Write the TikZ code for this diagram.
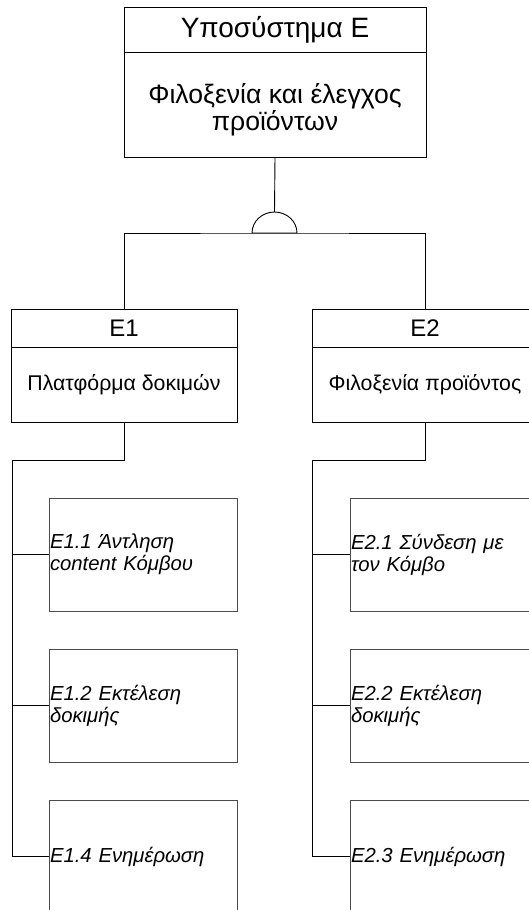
\documentclass[tikz,border=0pt]{standalone}
\usepackage{fontspec}
\setmainfont{Liberation Sans}
\usetikzlibrary{calc}
\begin{document}
\begin{tikzpicture}[x=1pt,y=1pt,
  every node/.style={inner sep=0pt, outer sep=0pt},
  box/.style={draw=black, line width=0.9pt, fill=white, align=center},
  headbox/.style={box, minimum width=302pt},
  groupbox/.style={box, minimum width=226pt},
  leafbox/.style={draw=black!70, line width=0.9pt, fill=white,
    minimum width=188pt, minimum height=113pt, text width=186pt,
    align=left, inner xsep=1pt,
    font=\itshape\fontsize{20.3}{22}\selectfont},
  link/.style={draw=black, line width=0.9pt}]
\useasboundingbox (0,0) rectangle (529,-910);
\clip (0,0) rectangle (529,-910);

% subsystem header
\node[headbox, minimum height=45pt, font=\fontsize{28}{30}\selectfont]
  (topT) at (275,-29.5) {Υποσύστημα Ε};
\node[headbox, minimum height=105pt, anchor=north] (topB) at (topT.south) {};
\node[align=center, font=\fontsize{26.6}{27}\selectfont]
  (topL) at ([yshift=-5pt]topB.center) {Φιλοξενία και έλεγχος\\προϊόντων};

% groups
\node[groupbox, minimum height=38pt, font=\fontsize{24}{26}\selectfont]
  (e1T) at (124,-328) {E1};
\node[groupbox, minimum height=75pt, anchor=north, font=\fontsize{21.3}{23}\selectfont]
  (e1B) at (e1T.south) {Πλατφόρμα δοκιμών};
\node[groupbox, minimum height=38pt, font=\fontsize{24}{26}\selectfont]
  (e2T) at (425,-328) {E2};
\node[groupbox, minimum height=75pt, anchor=north, font=\fontsize{21.3}{23}\selectfont]
  (e2B) at (e2T.south) {Φιλοξενία προϊόντος};

% tasks
\node[leafbox] (l11) at (143,-554.5) {E1.1 Άντληση\\content Κόμβου};
\node[leafbox] (l12) at (143,-705.5) {E1.2 Εκτέλεση\\δοκιμής};
\node[leafbox] (l14) at (143,-856.5) {E1.4 Ενημέρωση};
\node[leafbox] (l21) at (444,-554.5) {E2.1 Σύνδεση με\\τον Κόμβο};
\node[leafbox] (l22) at (444,-705.5) {E2.2 Εκτέλεση\\δοκιμής};
\node[leafbox] (l23) at (444,-856.5) {E2.3 Ενημέρωση};

% AND gate between header and groups
\coordinate (gate) at (274.5,-233);
\coordinate (gatetop) at (274.5,-212);
\draw[link] (topB.south) -- (gatetop);
\draw[link] (e1T.north) |- (gate) -| (e2T.north);
\draw[link, fill=white] ($(gate)+(-22.5,0)$)
  arc[start angle=180, end angle=0, x radius=22.5, y radius=21] -- cycle;

% task trees
\coordinate (e1bend) at (12,-460);
\coordinate (e2bend) at (312,-460);
\draw[link] (e1B.south) |- (e1bend) |- (l14.west);
\draw[link] (l11.west) -- (l11.west -| e1bend);
\draw[link] (l12.west) -- (l12.west -| e1bend);
\draw[link] (e2B.south) |- (e2bend) |- (l23.west);
\draw[link] (l21.west) -- (l21.west -| e2bend);
\draw[link] (l22.west) -- (l22.west -| e2bend);
\end{tikzpicture}
\end{document}
